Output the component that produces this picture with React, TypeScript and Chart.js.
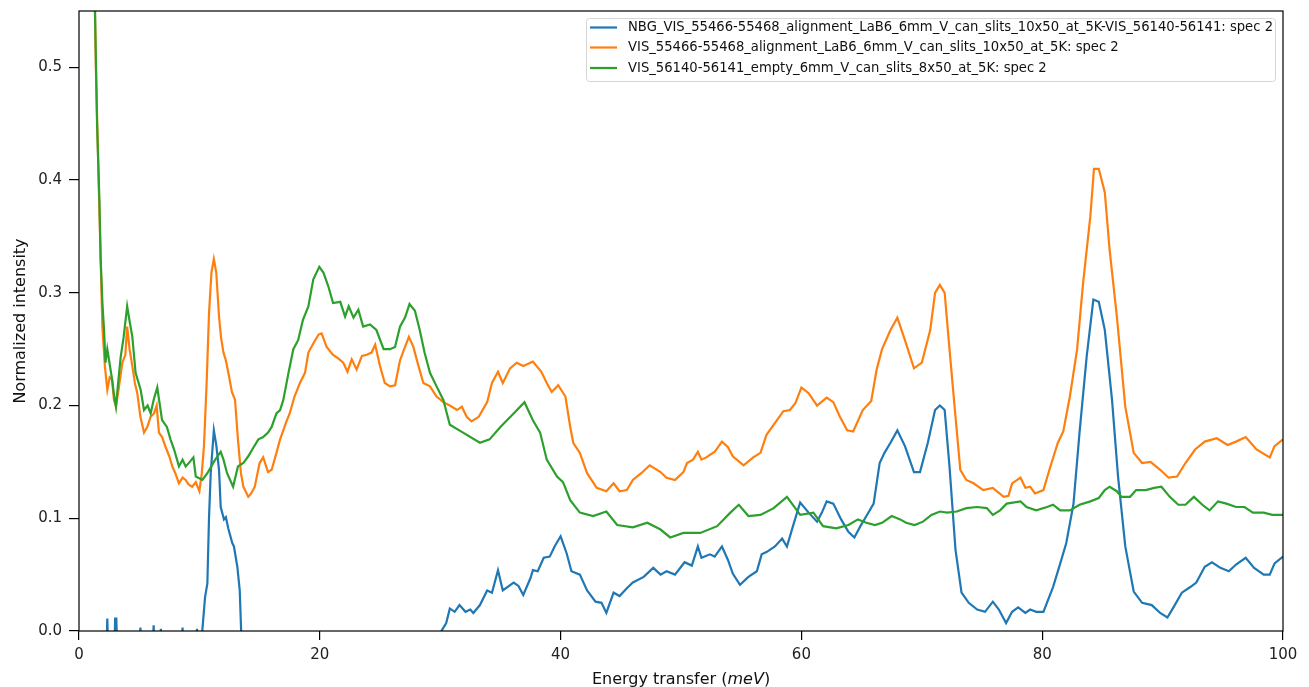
import React, { useEffect, useRef } from 'react';
import { Chart, registerables } from 'chart.js';

Chart.register(...registerables);

// ---------------- data ----------------
const SERIES_LABELS = [
  'NBG_VIS_55466-55468_alignment_LaB6_6mm_V_can_slits_10x50_at_5K-VIS_56140-56141: spec 2',
  'VIS_55466-55468_alignment_LaB6_6mm_V_can_slits_10x50_at_5K: spec 2',
  'VIS_56140-56141_empty_6mm_V_can_slits_8x50_at_5K: spec 2',
];
const SERIES_COLORS = ['#1f77b4', '#ff7f0e', '#2ca02c'];

const X_TICKS = [0, 20, 40, 60, 80, 100];
const Y_TICKS = [0, 0.1, 0.2, 0.3, 0.4, 0.5];

// Blue: NBG (difference) spectrum
const blueX = [
  1.1, 2.2, 2.35, 2.5, 2.9, 3.0, 3.1, 3.25, 5.0, 5.1, 5.2, 6.1, 6.2, 6.3, 6.7, 6.8, 6.9, 8.5, 8.6, 8.7,
  9.7, 9.8, 9.9, 10.2, 10.47, 10.66, 10.8, 10.94, 11.2, 11.4, 11.63, 11.77, 12.04, 12.2, 12.4, 12.73,
  12.87, 13.15, 13.35, 13.5, 14.0, 20.0, 26.0, 29.8, 30.1, 30.5, 30.8, 31.2, 31.6, 32.1, 32.5, 32.75,
  33.3, 33.9, 34.3, 34.8, 35.2, 36.1, 36.5, 36.9, 37.5, 37.7, 38.1, 38.6, 39.1, 39.5, 40.0, 40.5, 40.9,
  41.6, 42.2, 42.9, 43.4, 43.8, 44.4, 44.9, 45.5, 46.0, 46.9, 47.7, 48.3, 48.8, 49.5, 50.3, 50.9, 51.4,
  51.7, 52.4, 52.8, 53.4, 53.9, 54.3, 54.9, 55.6, 56.3, 56.7, 57.1, 57.8, 58.4, 58.8, 59.3, 59.9, 60.6,
  61.3, 61.7, 62.1, 62.65, 63.3, 63.9, 64.4, 64.9, 65.4, 66.0, 66.5, 66.9, 67.4, 67.97, 68.6, 69.35,
  69.85, 70.5, 71.1, 71.5, 71.9, 72.3, 72.8, 73.3, 73.9, 74.6, 75.25, 75.9, 76.4, 77.0, 77.5, 78.0,
  78.6, 79.0, 79.5, 80.1, 80.9, 81.5, 82.0, 82.6, 83.1, 83.7, 84.25, 84.7, 85.2, 85.8, 86.3, 86.9,
  87.6, 88.3, 89.1, 89.8, 90.4, 90.9, 91.6, 92.3, 92.8, 93.5, 94.1, 94.8, 95.5, 96.1, 96.9, 97.6,
  98.4, 98.9, 99.3, 100,
];
const blueY = [
  -0.3, -0.05, 0.011, -0.05, -0.05, 0.011, 0.011, -0.05, -0.02, 0.003, -0.02, -0.02, 0.005, -0.02,
  -0.02, 0.002, -0.02, -0.02, 0.003, -0.02, -0.02, 0.002, -0.02, -0.005, 0.03, 0.042, 0.101, 0.14,
  0.178, 0.165, 0.143, 0.11, 0.099, 0.101, 0.091, 0.078, 0.075, 0.057, 0.036, -0.01, -0.06, -0.08,
  -0.05, -0.01, 0.0, 0.007, 0.02, 0.017, 0.023, 0.017, 0.019, 0.016, 0.023, 0.036, 0.034, 0.054, 0.036,
  0.043, 0.04, 0.032, 0.047, 0.054, 0.053, 0.065, 0.066, 0.075, 0.084, 0.069, 0.053, 0.05, 0.036,
  0.026, 0.025, 0.016, 0.034, 0.031, 0.038, 0.043, 0.048, 0.056, 0.05, 0.053, 0.05, 0.061, 0.058,
  0.075, 0.065, 0.068, 0.066, 0.075, 0.063, 0.051, 0.041, 0.048, 0.053, 0.068, 0.07, 0.075, 0.082,
  0.075, 0.093, 0.114, 0.105, 0.097, 0.105, 0.115, 0.113, 0.099, 0.088, 0.083, 0.093, 0.102, 0.113,
  0.149, 0.158, 0.167, 0.178, 0.164, 0.141, 0.141, 0.167, 0.196, 0.2, 0.196, 0.146, 0.072, 0.034,
  0.025, 0.019, 0.017, 0.026, 0.019, 0.007, 0.017, 0.021, 0.016, 0.019, 0.017, 0.017, 0.039, 0.06,
  0.078, 0.113, 0.176, 0.244, 0.294, 0.292, 0.267, 0.205, 0.137, 0.075, 0.035, 0.025, 0.023, 0.016,
  0.012, 0.021, 0.034, 0.039, 0.043, 0.057, 0.061, 0.056, 0.053, 0.059, 0.065, 0.056, 0.05, 0.05,
  0.06, 0.066,
];

// Orange: sample spectrum
const orangeX = [
  1.1, 1.4, 1.7, 1.94, 2.15, 2.35, 2.55, 2.75, 2.9, 3.07, 3.3, 3.6, 3.85, 4.0, 4.2, 4.43, 4.64, 4.84,
  5.1, 5.4, 5.67, 5.95, 6.23, 6.45, 6.64, 6.9, 7.2, 7.5, 7.75, 8.0, 8.3, 8.6, 8.86, 9.1, 9.4, 9.7,
  10.0, 10.2, 10.38, 10.6, 10.8, 11.0, 11.2, 11.4, 11.63, 11.8, 12.0, 12.2, 12.46, 12.7, 12.96, 13.2,
  13.45, 13.65, 14.06, 14.3, 14.6, 15.0, 15.3, 15.7, 16.0, 16.4, 16.7, 16.97, 17.2, 17.5, 17.9, 18.35,
  18.77, 19.05, 19.46, 19.9, 20.15, 20.57, 21.1, 21.5, 21.95, 22.3, 22.65, 23.06, 23.5, 23.9, 24.3,
  24.6, 25.0, 25.4, 25.83, 26.25, 26.66, 27.08, 27.4, 27.77, 28.2, 28.6, 29.15, 29.7, 30.26, 30.8,
  31.4, 31.8, 32.2, 32.6, 33.2, 33.9, 34.3, 34.8, 35.2, 35.8, 36.35, 36.9, 37.7, 38.4, 38.85, 39.26,
  39.8, 40.4, 40.8, 41.05, 41.6, 42.2, 43.0, 43.8, 44.4, 44.9, 45.5, 46.0, 46.7, 47.4, 48.3, 48.8,
  49.5, 50.2, 50.5, 51.0, 51.4, 51.7, 52.1, 52.8, 53.4, 53.9, 54.3, 55.2, 56.0, 56.6, 57.1, 57.9,
  58.5, 59.05, 59.5, 60.0, 60.6, 61.3, 62.1, 62.65, 63.2, 63.8, 64.3, 65.1, 65.8, 66.25, 66.7, 67.4,
  67.97, 68.6, 69.35, 70.0, 70.7, 71.1, 71.5, 71.9, 72.3, 72.8, 73.2, 73.7, 74.3, 75.1, 75.9, 76.8,
  77.2, 77.5, 78.2, 78.6, 79.0, 79.4, 80.1, 80.6, 81.3, 81.75, 82.3, 82.9, 83.4, 84.0, 84.3, 84.7,
  85.2, 85.6, 86.2, 86.9, 87.6, 88.3, 89.0, 89.8, 90.5, 91.2, 91.9, 92.7, 93.5, 94.5, 95.4, 96.1,
  96.9, 97.8, 98.9, 99.3, 100,
];
const orangeY = [
  0.7, 0.5, 0.37, 0.27, 0.235, 0.214, 0.225, 0.223, 0.205, 0.199, 0.215, 0.238, 0.245, 0.27, 0.25,
  0.235, 0.22, 0.211, 0.19, 0.176, 0.181, 0.19, 0.193, 0.2, 0.176, 0.172, 0.163, 0.155, 0.146, 0.14,
  0.131, 0.136, 0.134, 0.13, 0.128, 0.132, 0.124, 0.14, 0.164, 0.22, 0.282, 0.318, 0.33, 0.318, 0.279,
  0.26, 0.247, 0.24, 0.226, 0.212, 0.205, 0.17, 0.14, 0.128, 0.119, 0.122, 0.128, 0.149, 0.154, 0.141,
  0.143, 0.158, 0.17, 0.178, 0.185, 0.193, 0.208, 0.22, 0.229, 0.247, 0.255, 0.263, 0.264, 0.252,
  0.245, 0.242, 0.238, 0.23, 0.241, 0.232, 0.244, 0.245, 0.247, 0.254, 0.235, 0.22, 0.217, 0.218,
  0.24, 0.252, 0.261, 0.252, 0.235, 0.22, 0.217, 0.208, 0.203, 0.2, 0.196, 0.199, 0.19, 0.186, 0.19,
  0.203, 0.22, 0.23, 0.22, 0.233, 0.238, 0.235, 0.239, 0.23, 0.22, 0.212, 0.218, 0.208, 0.181, 0.167,
  0.158, 0.14, 0.127, 0.124, 0.131, 0.124, 0.125, 0.134, 0.14, 0.147, 0.141, 0.136, 0.134, 0.141,
  0.149, 0.152, 0.159, 0.152, 0.154, 0.159, 0.168, 0.163, 0.155, 0.147, 0.154, 0.158, 0.174, 0.186,
  0.195, 0.196, 0.202, 0.216, 0.211, 0.2, 0.207, 0.203, 0.19, 0.178, 0.177, 0.196, 0.204, 0.232, 0.25,
  0.267, 0.278, 0.258, 0.233, 0.238, 0.267, 0.3, 0.307, 0.3, 0.25, 0.19, 0.143, 0.134, 0.131, 0.125,
  0.127, 0.119, 0.12, 0.131, 0.136, 0.127, 0.128, 0.122, 0.125, 0.143, 0.167, 0.177, 0.208, 0.25,
  0.309, 0.368, 0.41, 0.41, 0.389, 0.338, 0.279, 0.199, 0.158, 0.149, 0.15, 0.143, 0.136, 0.137,
  0.149, 0.161, 0.168, 0.171, 0.165, 0.168, 0.172, 0.161, 0.154, 0.164, 0.17,
];

// Green: empty can spectrum
const greenX = [
  1.1, 1.33, 1.5, 1.7, 1.8, 1.95, 2.08, 2.2, 2.35, 2.5, 2.75, 2.9, 3.07, 3.25, 3.46, 3.7, 4.0, 4.2,
  4.43, 4.7, 5.12, 5.4, 5.7, 5.95, 6.2, 6.5, 6.9, 7.3, 7.6, 7.9, 8.3, 8.6, 8.86, 9.2, 9.5, 9.7, 10.25,
  10.66, 11.2, 11.5, 11.77, 12.0, 12.3, 12.8, 13.2, 13.65, 14.06, 14.5, 14.9, 15.3, 15.7, 16.0, 16.4,
  16.7, 16.97, 17.4, 17.8, 18.2, 18.6, 19.05, 19.46, 19.96, 20.3, 20.7, 21.1, 21.7, 22.1, 22.4, 22.8,
  23.2, 23.6, 24.17, 24.7, 25.3, 25.83, 26.25, 26.66, 27.08, 27.45, 27.9, 28.3, 28.7, 29.15, 29.7,
  30.26, 30.8, 31.9, 33.3, 34.1, 35.0, 36.1, 37.0, 37.7, 38.3, 38.85, 39.7, 40.2, 40.8, 41.6, 42.7,
  43.8, 44.7, 46.0, 47.2, 48.3, 49.1, 50.2, 51.6, 53.0, 54.1, 54.8, 55.6, 56.6, 57.7, 58.8, 59.9, 61.0,
  61.8, 62.9, 63.9, 64.7, 65.4, 66.1, 66.7, 67.5, 68.2, 68.7, 69.4, 70.1, 70.8, 71.5, 72.1, 72.9, 73.7,
  74.6, 75.4, 75.9, 76.5, 77.05, 78.2, 78.7, 79.5, 80.4, 80.9, 81.5, 82.3, 83.1, 84.0, 84.7, 85.2,
  85.6, 86.2, 86.6, 87.3, 87.8, 88.6, 89.3, 89.9, 90.6, 91.3, 91.9, 92.6, 93.3, 93.9, 94.6, 95.3, 96.1,
  96.8, 97.5, 98.4, 99.1, 100,
];
const greenY = [
  0.7, 0.55, 0.45, 0.38, 0.33, 0.29, 0.267, 0.238, 0.25, 0.24, 0.223, 0.21, 0.199, 0.22, 0.243, 0.26,
  0.288, 0.275, 0.261, 0.229, 0.214, 0.196, 0.2, 0.193, 0.205, 0.216, 0.187, 0.181, 0.17, 0.161, 0.146,
  0.152, 0.146, 0.15, 0.154, 0.137, 0.134, 0.14, 0.15, 0.155, 0.159, 0.152, 0.14, 0.128, 0.146, 0.149,
  0.155, 0.163, 0.17, 0.172, 0.176, 0.181, 0.193, 0.196, 0.205, 0.229, 0.25, 0.258, 0.276, 0.288,
  0.312, 0.323, 0.318, 0.306, 0.291, 0.292, 0.279, 0.288, 0.278, 0.285, 0.27, 0.272, 0.267, 0.25, 0.25,
  0.252, 0.27, 0.278, 0.29, 0.284, 0.267, 0.247, 0.229, 0.217, 0.205, 0.183, 0.176, 0.167, 0.17, 0.181,
  0.193, 0.203, 0.187, 0.176, 0.152, 0.137, 0.132, 0.116, 0.105, 0.102, 0.106, 0.094, 0.092, 0.096,
  0.09, 0.083, 0.087, 0.087, 0.093, 0.105, 0.112, 0.102, 0.103, 0.109, 0.119, 0.103, 0.105, 0.093,
  0.091, 0.094, 0.099, 0.096, 0.094, 0.096, 0.102, 0.099, 0.096, 0.094, 0.097, 0.103, 0.106, 0.105,
  0.106, 0.109, 0.11, 0.109, 0.103, 0.107, 0.113, 0.115, 0.11, 0.107, 0.11, 0.112, 0.107, 0.107, 0.112,
  0.115, 0.118, 0.125, 0.128, 0.124, 0.119, 0.119, 0.125, 0.125, 0.127, 0.128, 0.119, 0.112, 0.112,
  0.119, 0.112, 0.107, 0.115, 0.113, 0.11, 0.11, 0.105, 0.105, 0.103, 0.103,
];

const X_TITLE_PARTS = [
  { text: 'Energy transfer (', italic: false },
  { text: 'meV', italic: true },
  { text: ')', italic: false },
];
const Y_TITLE = 'Normalized intensity';

// ---------------- helpers ----------------
const FONT = "'DejaVu Sans', sans-serif";

function toPoints(xs: number[], ys: number[]) {
  return xs.map((x, i) => ({ x, y: ys[i] }));
}

function zeroPadding(s: any) {
  s.paddingTop = 0;
  s.paddingBottom = 0;
  s.paddingLeft = 0;
  s.paddingRight = 0;
}

const framePlugin = {
  id: 'mplFrame',
  afterDatasetsDraw(chart: any) {
    const { ctx, chartArea } = chart;
    ctx.save();
    ctx.strokeStyle = '#000';
    ctx.lineWidth = 1.2;
    ctx.strokeRect(chartArea.left, chartArea.top, chartArea.right - chartArea.left, chartArea.bottom - chartArea.top);
    ctx.restore();
  },
};

const titlesPlugin = {
  id: 'mplTitles',
  afterDraw(chart: any) {
    const { ctx, chartArea } = chart;
    ctx.save();
    ctx.fillStyle = '#111';
    ctx.textBaseline = 'middle';
    const parts = X_TITLE_PARTS.map((p) => {
      ctx.font = `${p.italic ? 'italic ' : ''}16px ${FONT}`;
      return { ...p, w: ctx.measureText(p.text).width };
    });
    const total = parts.reduce((s, p) => s + p.w, 0);
    let x = (chartArea.left + chartArea.right) / 2 - total / 2;
    const y = chartArea.bottom + 49;
    ctx.textAlign = 'left';
    for (const p of parts) {
      ctx.font = `${p.italic ? 'italic ' : ''}16px ${FONT}`;
      ctx.fillText(p.text, x, y);
      x += p.w;
    }
    ctx.translate(21, (chartArea.top + chartArea.bottom) / 2);
    ctx.rotate(-Math.PI / 2);
    ctx.textAlign = 'center';
    ctx.font = `16px ${FONT}`;
    ctx.fillText(Y_TITLE, 0, 0);
    ctx.restore();
  },
};

const legendPlugin = {
  id: 'mplLegend',
  afterDraw(chart: any) {
    const { ctx } = chart;
    const bx = 586.5, by = 18.5, bw = 689, bh = 63, r = 3;
    ctx.save();
    ctx.beginPath();
    ctx.moveTo(bx + r, by);
    ctx.lineTo(bx + bw - r, by);
    ctx.quadraticCurveTo(bx + bw, by, bx + bw, by + r);
    ctx.lineTo(bx + bw, by + bh - r);
    ctx.quadraticCurveTo(bx + bw, by + bh, bx + bw - r, by + bh);
    ctx.lineTo(bx + r, by + bh);
    ctx.quadraticCurveTo(bx, by + bh, bx, by + bh - r);
    ctx.lineTo(bx, by + r);
    ctx.quadraticCurveTo(bx, by, bx + r, by);
    ctx.closePath();
    ctx.fillStyle = 'rgba(255,255,255,0.8)';
    ctx.fill();
    ctx.strokeStyle = '#d6d6d6';
    ctx.lineWidth = 1;
    ctx.stroke();

    ctx.font = `14px ${FONT}`;
    const w0 = ctx.measureText(chart.data.datasets[0].label).width;
    const sx = 645 / w0;
    const rows = [27.5, 47.5, 68];
    chart.data.datasets.forEach((ds: any, i: number) => {
      const ry = rows[i];
      ctx.strokeStyle = ds.borderColor;
      ctx.lineWidth = 2.2;
      ctx.beginPath();
      ctx.moveTo(590, ry);
      ctx.lineTo(617, ry);
      ctx.stroke();
      ctx.save();
      ctx.translate(628, ry);
      ctx.scale(sx, 1);
      ctx.fillStyle = '#111';
      ctx.textAlign = 'left';
      ctx.textBaseline = 'middle';
      ctx.fillText(ds.label, 0, 0);
      ctx.restore();
    });
    ctx.restore();
  },
};

export default function App() {
  const canvasRef = useRef<HTMLCanvasElement | null>(null);

  useEffect(() => {
    if (!canvasRef.current) return;
    const xs = [blueX, orangeX, greenX];
    const ys = [blueY, orangeY, greenY];
    const chart = new Chart(canvasRef.current, {
      type: 'line',
      data: {
        datasets: SERIES_LABELS.map((label, i) => ({
          label,
          data: toPoints(xs[i], ys[i]),
          borderColor: SERIES_COLORS[i],
          backgroundColor: SERIES_COLORS[i],
          borderWidth: 2.2,
          pointRadius: 0,
          tension: 0,
          fill: false,
          clip: 0,
          order: 2 - i,
        })),
      },
      options: {
        responsive: false,
        animation: false,
        devicePixelRatio: 1,
        layout: { padding: { top: 11, right: 26, left: 0, bottom: 0 } },
        plugins: {
          legend: { display: false },
          tooltip: { enabled: false },
          title: { display: false },
        },
        scales: {
          x: {
            type: 'linear',
            min: 0,
            max: 100,
            afterFit: (s: any) => { s.height = 56; zeroPadding(s); },
            afterBuildTicks: (s: any) => { s.ticks = X_TICKS.map((v) => ({ value: v })); },
            grid: { display: true, drawOnChartArea: false, drawTicks: true, tickLength: 9, color: '#000', lineWidth: 1.2 },
            border: { display: false },
            ticks: {
              color: '#222',
              font: { family: FONT, size: 15 },
              padding: 6,
              maxRotation: 0,
              autoSkip: false,
              callback: (v: any) => String(v),
            },
          },
          y: {
            type: 'linear',
            min: 0,
            max: 0.55,
            afterFit: (s: any) => { s.width = 79; zeroPadding(s); },
            afterBuildTicks: (s: any) => { s.ticks = Y_TICKS.map((v) => ({ value: v })); },
            grid: { display: true, drawOnChartArea: false, drawTicks: true, tickLength: 10, color: '#000', lineWidth: 1.2 },
            border: { display: false },
            ticks: {
              color: '#222',
              font: { family: FONT, size: 15 },
              padding: 7,
              autoSkip: false,
              callback: (v: any) => Number(v).toFixed(1),
            },
          },
        },
      },
      plugins: [framePlugin, titlesPlugin, legendPlugin],
    });
    return () => chart.destroy();
  }, []);

  return (
    <div style={{ position: 'absolute', left: 0, top: 0, width: 1309, height: 687, background: '#fff' }}>
      <canvas ref={canvasRef} width={1309} height={687} style={{ display: 'block', width: 1309, height: 687 }} />
    </div>
  );
}
